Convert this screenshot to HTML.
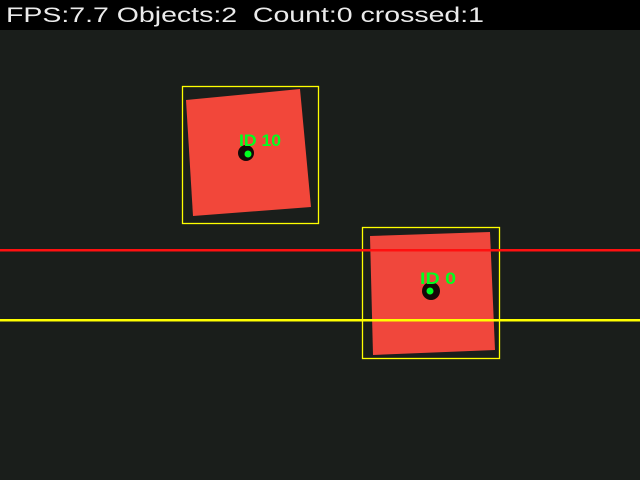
<!DOCTYPE html>
<html><head><style>body{margin:0;background:#191d1a}svg{display:block}</style></head><body>
<svg width="640" height="480" xmlns="http://www.w3.org/2000/svg">
<rect width="640" height="480" fill="#1a1e1b"/>
<rect width="640" height="30" fill="#000"/>
<text x="6" y="22" font-family="Liberation Sans, sans-serif" font-size="21" fill="#fff" fill-opacity="0.92" textLength="478" lengthAdjust="spacingAndGlyphs">FPS:7.7 Objects:2&#160;&#160;Count:0 crossed:1</text>
<polygon points="186,100 300,89 311,207 193,216" fill="#f2473a"/>
<polygon points="370,236 490,232 495,350 373,355" fill="#f0473c"/>
<circle cx="246" cy="153" r="8" fill="#140808"/>
<circle cx="431" cy="291" r="9" fill="#140808"/>
<rect x="182.5" y="86.5" width="136" height="137" fill="none" stroke="#ffff00" stroke-width="1.3"/>
<rect x="362.5" y="227.5" width="137" height="131" fill="none" stroke="#ffff00" stroke-width="1.3"/>
<rect x="0" y="249" width="640" height="2.5" fill="#ff1010"/>
<rect x="0" y="319" width="640" height="2.5" fill="#ffff00"/>
<circle cx="248" cy="154" r="3.5" fill="#00ff20"/>
<circle cx="430" cy="291" r="3.5" fill="#00ff20"/>
<text x="239" y="146" font-family="Liberation Sans, sans-serif" font-weight="bold" font-size="17" fill="#00ff20" textLength="42" lengthAdjust="spacingAndGlyphs">ID 10</text>
<text x="420" y="284" font-family="Liberation Sans, sans-serif" font-weight="bold" font-size="17" fill="#00ff20" textLength="36" lengthAdjust="spacingAndGlyphs">ID 0</text>
</svg>
</body></html>
